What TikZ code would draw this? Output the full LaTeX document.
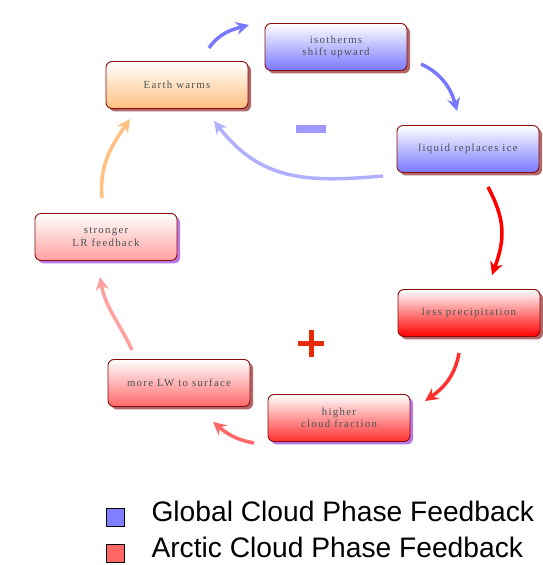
\documentclass[tikz,border=0pt]{standalone}
\usepackage{fontspec}
\setmainfont{Liberation Serif}
\newfontfamily\boxfont[LetterSpace=12]{Liberation Serif}
\newfontfamily\legfont{Liberation Sans}
\usetikzlibrary{arrows.meta,shadows}
\definecolor{fbblue}{HTML}{7878FF}
\definecolor{fbback}{HTML}{B0B0FF}
\definecolor{fborange}{HTML}{FFC080}
\definecolor{fbred}{HTML}{FF0000}
\definecolor{fbredb}{HTML}{FF3030}
\definecolor{fbredc}{HTML}{FF6868}
\definecolor{fbredd}{HTML}{FFA0A0}
\definecolor{boxline}{HTML}{8B0A0A}
\definecolor{boxtext}{HTML}{4A5454}
\definecolor{shadered}{HTML}{B06868}
\definecolor{shadepurple}{HTML}{B878E8}
\definecolor{minusblue}{HTML}{A098FF}
\definecolor{plusred}{HTML}{E62A0A}
\definecolor{legblue}{HTML}{8080FF}
\definecolor{legred}{HTML}{FF6666}

\begin{document}
\begin{tikzpicture}[x=1pt,y=1pt,
  fbox/.style={draw=boxline,line width=0.9pt,rounded corners=6pt,
    minimum width=142pt,minimum height=47pt,align=center,top color=white,
    text=boxtext,font=\boxfont\fontsize{10.8}{12.5}\selectfont},
  redshadow/.style={drop shadow={shadow xshift=3pt,shadow yshift=-3pt,fill=shadered,opacity=1}},
  purpleshadow/.style={drop shadow={shadow xshift=3pt,shadow yshift=-3pt,fill=shadepurple,opacity=1}},
  fb/.style={line width=3.5pt,-{Stealth[length=13pt,width=13pt]}},
  legbox/.style={draw=black,line width=0.8pt,minimum size=18pt,inner sep=0pt},
  legtext/.style={anchor=base west,font=\legfont\fontsize{28.2}{30}\selectfont}]
  \useasboundingbox (0,0) rectangle (542,565);
  % the seven steps round the loop
  \node[fbox,redshadow,bottom color=fborange] (ew) at (177,480) {Earth warms};
  \node[fbox,redshadow,bottom color=fbblue] (iso) at (336,518) {isotherms\\shift upward};
  \node[fbox,redshadow,bottom color=fbblue] (liq) at (468,416) {liquid replaces ice};
  \node[fbox,redshadow,bottom color=fbred] (prec) at (469,252) {less precipitation};
  \node[fbox,purpleshadow,bottom color=fbredb] (cf) at (339,147) {higher\\cloud fraction};
  \node[fbox,redshadow,bottom color=fbredc] (lw) at (179,182) {more LW to surface};
  \node[fbox,purpleshadow,bottom color=fbredd] (lr) at (106,328) {stronger\\LR feedback};
  % arrows
  \draw[fb,fbblue] ([shift={(32,37)}]ew.center) to[out=55,in=195] ([shift={(-87,22)}]iso.center);
  \draw[fb,fbblue] ([shift={(85,-17)}]iso.center) to[out=-25,in=105] ([shift={(-11,38)}]liq.center);
  \draw[fb,fbback] ([shift={(-85,-27)}]liq.center) to[out=185,in=-52,looseness=1.1] ([shift={(37,-36)}]ew.center);
  \draw[fb,fbred] ([shift={(20,-38)}]liq.center) to[out=-62,in=70,looseness=1.1] ([shift={(23,38)}]prec.center);
  \draw[fb,fbredb] ([shift={(-10,-40)}]prec.center) to[out=-100,in=35] ([shift={(86,17)}]cf.center);
  \draw[fb,fbredc] ([shift={(-85,-25)}]cf.center) to[out=170,in=-40] ([shift={(34,-39)}]lw.center);
  \draw[fb,fbredd] ([shift={(-47,33)}]lw.center) to[out=115,in=-80] ([shift={(-6,-40)}]lr.center);
  \draw[fb,fborange] ([shift={(-4,39)}]lr.center) to[out=95,in=-125] ([shift={(-47,-34)}]ew.center);
  % signs
  \fill[minusblue] (296,432) rectangle (326,440);
  \fill[plusred] (298,219) rectangle (324,224);
  \fill[plusred] (308.5,208) rectangle (313.5,235);
  % legend
  \node[legbox,fill=legblue] (legglobal) at (115,48) {};
  \node[legtext] (legglobaltext) at (148,43) {Global Cloud Phase Feedback};
  \node[legbox,fill=legred] (legarctic) at (115,12) {};
  \node[legtext] (legarctictext) at (148,7) {Arctic Cloud Phase Feedback};
\end{tikzpicture}
\end{document}
